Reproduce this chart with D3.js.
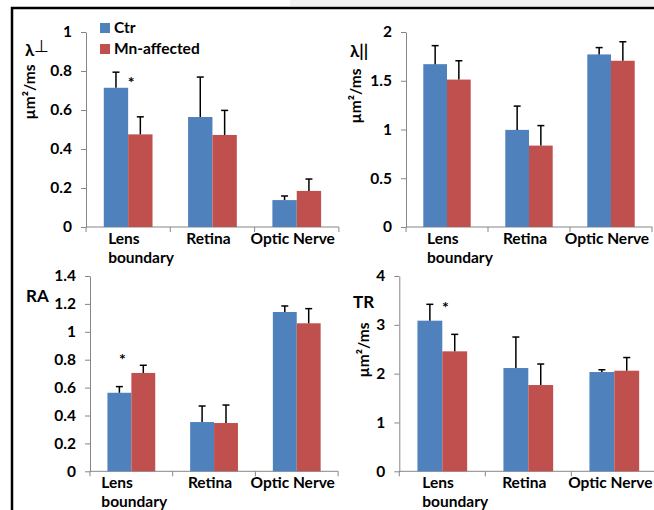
<!DOCTYPE html>
<html>
<head>
<meta charset="utf-8">
<script src="https://cdn.jsdelivr.net/npm/d3@7"></script>
<style>
  body { margin: 0; background: #fff; }
  text { font-family: Lato, "Open Sans", sans-serif; font-weight: 700; fill: #000; }
</style>
</head>
<body>
<script>
var categories = ["Lens boundary", "Retina", "Optic Nerve"];
var series = ["Ctr", "Mn-affected"];
var colors = ["#4F81BD", "#C0504D"];

// lambda perpendicular (µm²/ms)
var perpCtr = [0.714, 0.564, 0.138],
    perpCtrErr = [0.08, 0.205, 0.021],
    perpMn = [0.475, 0.472, 0.185],
    perpMnErr = [0.09, 0.126, 0.061];

// lambda parallel (µm²/ms)
var parCtr = [1.67, 0.996, 1.77],
    parCtrErr = [0.19, 0.244, 0.07],
    parMn = [1.512, 0.835, 1.705],
    parMnErr = [0.193, 0.205, 0.195];

// relative anisotropy
var raCtr = [0.563, 0.353, 1.142],
    raCtrErr = [0.044, 0.115, 0.043],
    raMn = [0.705, 0.346, 1.061],
    raMnErr = [0.055, 0.129, 0.105];

// trace (µm²/ms)
var trCtr = [3.085, 2.115, 2.033],
    trCtrErr = [0.335, 0.635, 0.047],
    trMn = [2.457, 1.767, 2.06],
    trMnErr = [0.348, 0.43, 0.27];

var perpTicks = [0, 0.2, 0.4, 0.6, 0.8, 1],
    parTicks = [0, 0.5, 1, 1.5, 2],
    raTicks = [0, 0.2, 0.4, 0.6, 0.8, 1, 1.2, 1.4],
    trTicks = [0, 1, 2, 3, 4];

var svg = d3.select("body").append("svg")
    .attr("width", 654)
    .attr("height", 510);

svg.append("rect").attr("x", 290).attr("y", 0).attr("width", 364).attr("height", 6).attr("fill", "#f1f1f1");
svg.append("rect")
    .attr("x", 12).attr("y", 8)
    .attr("width", 700).attr("height", 540)
    .attr("fill", "#fff")
    .attr("stroke", "#000")
    .attr("stroke-width", 2.5);

var panels = [
  {ctr: perpCtr, ctrErr: perpCtrErr, mn: perpMn, mnErr: perpMnErr, ticks: perpTicks,
   left: 86, top: 32, bottom: 227, band: 84.3, title: ["λ", "⊥"], tx: 25, ty: 56,
   unit: [30, 92], legend: true, star: {cat: 0, v: 0.76, dx: 3}, lensShift: -20},
  {ctr: parCtr, ctrErr: parCtrErr, mn: parMn, mnErr: parMnErr, ticks: parTicks,
   left: 406, top: 32, bottom: 227, band: 82, title: ["λ||"], tx: 350, ty: 57,
   unit: [356, 96], lensShift: -20},
  {ctr: raCtr, ctrErr: raCtrErr, mn: raMn, mnErr: raMnErr, ticks: raTicks,
   left: 90, top: 276, bottom: 471.3, band: 82.7, title: ["RA"], tx: 26, ty: 302,
   star: {cat: 0, v: 0.83, dx: -9}, lensShift: -30},
  {ctr: trCtr, ctrErr: trCtrErr, mn: trMn, mnErr: trMnErr, ticks: trTicks,
   left: 399.3, top: 276, bottom: 471.3, band: 86, title: ["TR"], tx: 353, ty: 308,
   unit: [364, 350], star: {cat: 0, v: 3.43, dx: 3}, lensShift: -20}
];

panels.forEach(function(p) {
  var g = svg.append("g");

  var x = d3.scaleBand()
      .domain(categories)
      .range([p.left, p.left + p.band * categories.length]);

  var xs = d3.scaleBand()
      .domain(series)
      .range([0, x.bandwidth()])
      .paddingOuter(0.73);

  var y = d3.scaleLinear()
      .domain([0, d3.max(p.ticks)])
      .range([p.bottom, p.top]);

  // axes
  var yAxis = d3.axisLeft(y)
      .tickValues(p.ticks)
      .tickFormat(function(d) { return String(+d.toFixed(1)); })
      .tickSize(5)
      .tickPadding(9)
      .tickSizeOuter(0);

  var ya = g.append("g")
      .attr("transform", "translate(" + p.left + ",0)")
      .call(yAxis);
  ya.select(".domain").attr("stroke", "#868686");
  ya.selectAll(".tick line").attr("stroke", "#868686");
  ya.selectAll(".tick text").style("font-size", "15.5px").attr("fill", "#000");

  var xa = g.append("g")
      .attr("transform", "translate(0," + p.bottom + ")");
  xa.append("line")
      .attr("x1", x.range()[0]).attr("x2", x.range()[1])
      .attr("stroke", "#868686");
  xa.selectAll(".xt")
      .data(d3.range(categories.length + 1))
    .enter().append("line")
      .attr("x1", function(i) { return p.left + i * x.step(); })
      .attr("x2", function(i) { return p.left + i * x.step(); })
      .attr("y1", 0).attr("y2", 5)
      .attr("stroke", "#868686");

  categories.forEach(function(c) {
    var cx = x(c) + x.bandwidth() / 2;
    var words = c.split(" ");
    if (c === "Lens boundary") {
      xa.append("text").attr("x", cx + p.lensShift).attr("y", 17).style("font-size", "15.5px").text(words[0]);
      xa.append("text").attr("x", cx + p.lensShift).attr("y", 36).style("font-size", "15.5px").text(words[1]);
    } else {
      xa.append("text").attr("x", cx - 4).attr("y", 17).attr("text-anchor", "middle")
          .style("font-size", "15.5px").text(c);
    }
  });

  // bars
  var rows = [];
  categories.forEach(function(c, i) {
    rows.push({cat: c, s: series[0], v: p.ctr[i], e: p.ctrErr[i], col: colors[0]});
    rows.push({cat: c, s: series[1], v: p.mn[i], e: p.mnErr[i], col: colors[1]});
  });

  g.selectAll(".bar")
      .data(rows)
    .enter().append("rect")
      .attr("class", "bar")
      .attr("x", function(d) { return x(d.cat) + xs(d.s); })
      .attr("y", function(d) { return y(d.v); })
      .attr("width", xs.bandwidth())
      .attr("height", function(d) { return p.bottom - y(d.v); })
      .attr("fill", function(d) { return d.col; });

  // error bars (upper only)
  var eb = g.selectAll(".err")
      .data(rows)
    .enter().append("g")
      .attr("class", "err")
      .attr("transform", function(d) { return "translate(" + (x(d.cat) + xs(d.s) + xs.bandwidth() / 2) + ",0)"; });
  eb.append("line")
      .attr("y1", function(d) { return y(d.v); })
      .attr("y2", function(d) { return y(d.v + d.e); })
      .attr("stroke", "#000").attr("stroke-width", 1.5);
  eb.append("line")
      .attr("x1", -3.5).attr("x2", 3.5)
      .attr("y1", function(d) { return y(d.v + d.e); })
      .attr("y2", function(d) { return y(d.v + d.e); })
      .attr("stroke", "#000").attr("stroke-width", 1.5);

  if (p.star) {
    var sc = categories[p.star.cat];
    g.append("text")
        .attr("x", x(sc) + x.bandwidth() / 2 + p.star.dx)
        .attr("y", y(p.star.v) + 9)
        .attr("text-anchor", "middle")
        .style("font-size", "16px")
        .text("*");
  }

  // titles
  var t = g.append("text")
      .attr("x", p.tx).attr("y", p.ty)
      .style("font-size", "17px");
  t.append("tspan").text(p.title[0]);
  if (p.title[1]) {
    t.append("tspan").attr("dy", -4).style("font-weight", 400).text(p.title[1]);
  }

  if (p.unit) {
    g.append("text")
        .attr("transform", "translate(" + p.unit[0] + "," + p.unit[1] + ") rotate(-90)")
        .attr("text-anchor", "middle")
        .attr("dy", "0.35em")
        .style("font-size", "15.5px")
        .text("µm²/ms");
  }

  if (p.legend) {
    var lg = g.append("g");
    series.forEach(function(s, i) {
      lg.append("rect")
          .attr("x", 100).attr("y", 23 + i * 21)
          .attr("width", 10).attr("height", 10)
          .attr("fill", colors[i]);
      lg.append("text")
          .attr("x", 114).attr("y", 33 + i * 21)
          .style("font-size", "15.5px")
          .text(s);
    });
  }
});
</script>
</body>
</html>
